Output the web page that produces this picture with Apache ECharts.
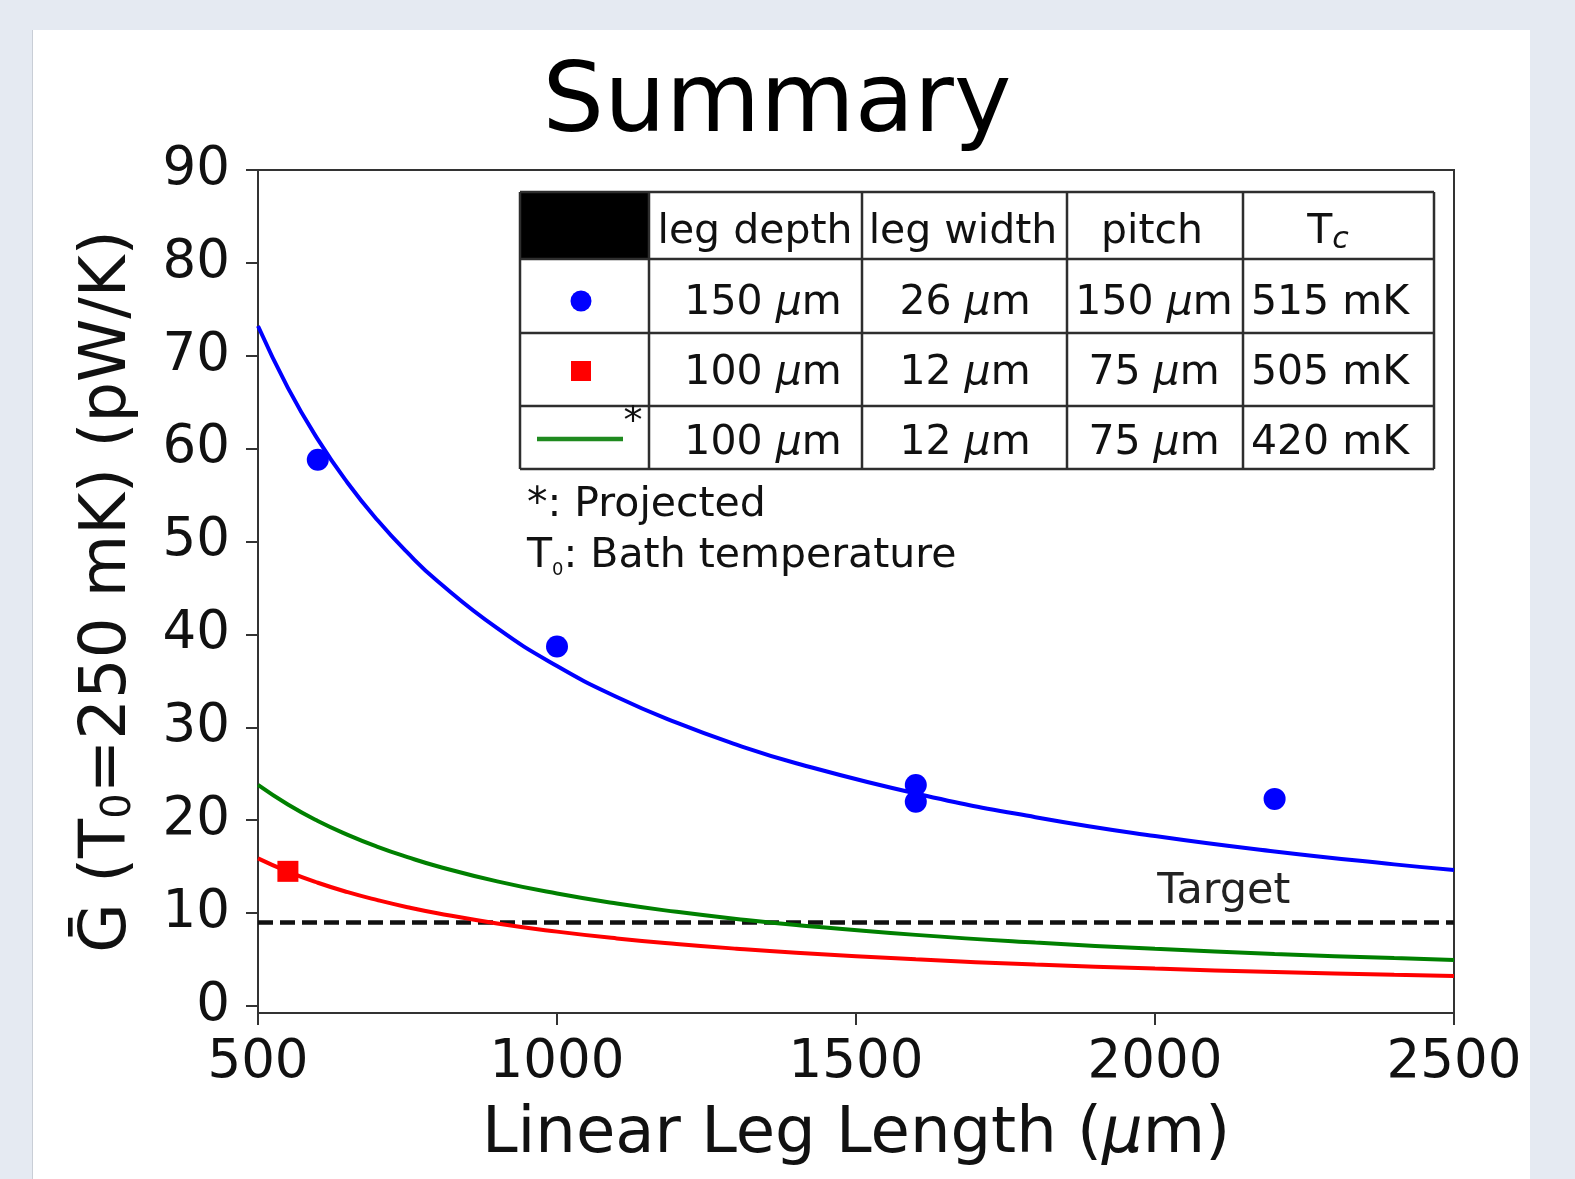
<!DOCTYPE html>
<html>
<head>
<meta charset="utf-8">
<title>Summary</title>
<script src="https://cdn.jsdelivr.net/npm/echarts@6/dist/echarts.min.js"></script>
<style>
    html, body { margin: 0; padding: 0; background: #e5eaf2; }
    #panel { position: absolute; left: 32px; top: 30px; width: 1497px; height: 1149px; background: #fff; border-left: 1px solid #c9ced6; }
    #main { position: absolute; left: 0; top: 0; width: 1575px; height: 1179px; }
</style>
</head>
<body>
<div id="panel"></div>
<div id="main"></div>
<script>
var legLength = [500, 550, 600, 650, 700, 750, 800, 900, 1000, 1100, 1200, 1300, 1400, 1600, 1800, 2000, 2200, 2400, 2500];
// fitted G for 150um deep / 26um wide legs (blue)
var blueFit = [73.2, 66.55, 61.0, 56.31, 52.29, 48.8, 45.75, 40.67, 36.6, 33.27, 30.5, 28.15, 26.14, 22.88, 20.33, 18.3, 16.64, 15.25, 14.64];
// fitted G for 100um deep / 12um wide legs, Tc 505 mK (red)
var redFit = [15.9, 14.47, 13.27, 12.26, 11.4, 10.64, 9.99, 8.89, 8.01, 7.28, 6.68, 6.17, 5.74, 5.03, 4.47, 4.03, 3.67, 3.36, 3.23];
// projected G for Tc 420 mK (green)
var greenFit = [23.8, 21.69, 19.92, 18.43, 17.14, 16.03, 15.05, 13.42, 12.11, 11.03, 10.14, 9.37, 8.72, 7.66, 6.83, 6.16, 5.61, 5.16, 4.96];

// measured points
var blueMeasX = [600, 1000, 1600, 1600, 2200];
var blueMeasY = [58.8, 38.7, 23.8, 22.0, 22.3];
var redMeasX = [550];
var redMeasY = [14.5];

var targetG = 9;
var targetLabelX = 2115;
var yTicks = [0, 10, 20, 30, 40, 50, 60, 70, 80, 90];

// table contents
var tableHeader = ['leg depth', 'leg width', 'pitch', 'T{c|c}'];
var tableRows = [
    ['150 {it|\u03bc}m', '26 {it|\u03bc}m', '150 {it|\u03bc}m', '515 mK'],
    ['100 {it|\u03bc}m', '12 {it|\u03bc}m', '75 {it|\u03bc}m', '505 mK'],
    ['100 {it|\u03bc}m', '12 {it|\u03bc}m', '75 {it|\u03bc}m', '420 mK']
];
var notes = ['*: Projected', 'T{s|0}: Bath temperature'];

var FONT = 'DejaVu Sans';

var zip = function (xs, ys) {
    var out = [];
    for (var i = 0; i < xs.length; i++) {
        out.push([xs[i], ys[i]]);
    }
    return out;
};

// table layout
var colEdges = [520, 649, 862, 1067, 1243, 1434];
var rowEdges = [192, 259, 333, 406, 469];
var cellCx = [763, 965, 1154, 1330];
var rowCy = [232, 303, 373, 443];

var tableRich = {
    it: { fontFamily: FONT, fontSize: 41, fontStyle: 'italic', fill: '#111', lineHeight: 46 },
    c: { fontFamily: FONT, fontSize: 30, fontStyle: 'italic', fill: '#111', lineHeight: 22, verticalAlign: 'bottom' },
    s: { fontFamily: FONT, fontSize: 18, fill: '#111', lineHeight: 14, verticalAlign: 'bottom' }
};

var graphics = [];

// header black cell + grid lines
graphics.push({
    type: 'rect', z: 10,
    shape: { x: colEdges[0], y: rowEdges[0], width: colEdges[1] - colEdges[0], height: rowEdges[1] - rowEdges[0] },
    style: { fill: '#000' }
});
for (var ci = 0; ci < colEdges.length; ci++) {
    graphics.push({
        type: 'line', z: 11,
        shape: { x1: colEdges[ci], y1: rowEdges[0], x2: colEdges[ci], y2: rowEdges[rowEdges.length - 1] },
        style: { stroke: '#2e2e2e', lineWidth: 2.5 }
    });
}
for (var ri = 0; ri < rowEdges.length; ri++) {
    graphics.push({
        type: 'line', z: 11,
        shape: { x1: colEdges[0], y1: rowEdges[ri], x2: colEdges[colEdges.length - 1], y2: rowEdges[ri] },
        style: { stroke: '#2e2e2e', lineWidth: 2.5 }
    });
}

// header texts
for (var h = 0; h < tableHeader.length; h++) {
    graphics.push({
        type: 'text', z: 12, x: h === 0 ? cellCx[h] - 8 : cellCx[h] - 2, y: rowCy[0],
        style: {
            text: tableHeader[h], rich: tableRich, fontFamily: FONT, fontSize: 41, lineHeight: 46,
            fill: '#111', align: 'center', verticalAlign: 'middle'
        }
    });
}
// body texts
for (var r = 0; r < tableRows.length; r++) {
    for (var c = 0; c < tableRows[r].length; c++) {
        graphics.push({
            type: 'text', z: 12, x: cellCx[c], y: rowCy[r + 1],
            style: {
                text: tableRows[r][c], rich: tableRich, fontFamily: FONT, fontSize: 41, lineHeight: 46,
                fill: '#111', align: 'center', verticalAlign: 'middle'
            }
        });
    }
}

// legend glyphs in first column
graphics.push({ type: 'circle', z: 12, shape: { cx: 581, cy: 301, r: 10.5 }, style: { fill: '#0000ff' } });
graphics.push({ type: 'rect', z: 12, shape: { x: 571, y: 361, width: 20, height: 20 }, style: { fill: '#ff0000' } });
graphics.push({ type: 'line', z: 12, shape: { x1: 537, y1: 439, x2: 623, y2: 439 }, style: { stroke: '#1f8a1f', lineWidth: 4.5 } });
graphics.push({
    type: 'text', z: 12, x: 633, y: 423,
    style: { text: '*', fontFamily: FONT, fontSize: 38, fill: '#111', align: 'center', verticalAlign: 'middle' }
});

// notes below table
for (var n = 0; n < notes.length; n++) {
    graphics.push({
        type: 'text', z: 12, x: 527, y: 505 + n * 51,
        style: {
            text: notes[n], rich: tableRich, fontFamily: FONT, fontSize: 41, lineHeight: 46,
            fill: '#111', align: 'left', verticalAlign: 'middle'
        }
    });
}

// title
graphics.push({
    type: 'text', z: 12, x: 777, y: 106,
    style: { text: 'Summary', fontFamily: FONT, fontSize: 97, fill: '#000', align: 'center', verticalAlign: 'middle' }
});

var chart = echarts.init(document.getElementById('main'));

var axisLineStyle = { color: '#333', width: 2 };

var option = {
    backgroundColor: 'transparent',
    animation: false,
    textStyle: { fontFamily: FONT },
    grid: {
        left: 258, right: 121, top: 170, bottom: 166,
        show: true, borderColor: '#333', borderWidth: 2, backgroundColor: 'transparent'
    },
    xAxis: {
        type: 'value',
        min: 500,
        max: 2500,
        interval: 500,
        name: 'Linear Leg Length ({it|\u03bc}m)',
        nameLocation: 'middle',
        nameGap: 90,
        nameTextStyle: {
            fontFamily: FONT, fontSize: 64, color: '#111',
            rich: { it: { fontFamily: FONT, fontSize: 64, fontStyle: 'italic', color: '#111' } }
        },
        axisLine: { show: true, onZero: false, lineStyle: axisLineStyle },
        axisTick: { show: true, inside: false, length: 12, lineStyle: axisLineStyle },
        axisLabel: {
            fontFamily: FONT, fontSize: 53, color: '#111', margin: 24,
            formatter: function (v) { return String(v); }
        },
        splitLine: { show: false }
    },
    yAxis: {
        type: 'value',
        min: -0.75,
        max: 90,
        name: '\u1E20 (T{s|0}=250 mK) (pW/K)',
        nameLocation: 'middle',
        nameGap: 118,
        nameTextStyle: {
            fontFamily: FONT, fontSize: 64, color: '#111', lineHeight: 64,
            rich: { s: { fontFamily: FONT, fontSize: 40, color: '#111', lineHeight: 28, verticalAlign: 'bottom' } }
        },
        axisLine: { show: true, onZero: false, lineStyle: axisLineStyle },
        axisTick: { show: true, inside: false, length: 12, lineStyle: axisLineStyle, customValues: yTicks },
        axisLabel: {
            fontFamily: FONT, fontSize: 53, color: '#111', margin: 28, padding: [8, 0, 0, 0],
            customValues: yTicks
        },
        splitLine: { show: false }
    },
    series: [
        {
            name: 'target',
            type: 'line',
            data: [[500, targetG], [2500, targetG]],
            showSymbol: false,
            lineStyle: { color: '#111', width: 4.5, type: [15, 7] },
            z: 2,
            markPoint: {
                symbol: 'circle',
                symbolSize: 1,
                itemStyle: { color: 'transparent' },
                label: {
                    show: true, formatter: 'Target', offset: [0, -31],
                    fontFamily: FONT, fontSize: 43, color: '#222'
                },
                data: [{ coord: [targetLabelX, targetG] }]
            }
        },
        {
            name: 'blue fit',
            type: 'line',
            data: zip(legLength, blueFit),
            smooth: 0.5,
            showSymbol: false,
            lineStyle: { color: '#0000ff', width: 4 },
            z: 3
        },
        {
            name: 'green projected',
            type: 'line',
            data: zip(legLength, greenFit),
            smooth: 0.5,
            showSymbol: false,
            lineStyle: { color: '#008000', width: 4 },
            z: 3
        },
        {
            name: 'red fit',
            type: 'line',
            data: zip(legLength, redFit),
            smooth: 0.5,
            showSymbol: false,
            lineStyle: { color: '#ff0000', width: 4 },
            z: 3
        },
        {
            name: 'blue data',
            type: 'scatter',
            data: zip(blueMeasX, blueMeasY),
            symbol: 'circle',
            symbolSize: 22,
            itemStyle: { color: '#0000ff', opacity: 1 },
            z: 4
        },
        {
            name: 'red data',
            type: 'scatter',
            data: zip(redMeasX, redMeasY),
            symbol: 'rect',
            symbolSize: 21,
            itemStyle: { color: '#ff0000', opacity: 1 },
            z: 4
        }
    ],
    graphic: graphics
};

chart.setOption(option);
</script>
</body>
</html>
